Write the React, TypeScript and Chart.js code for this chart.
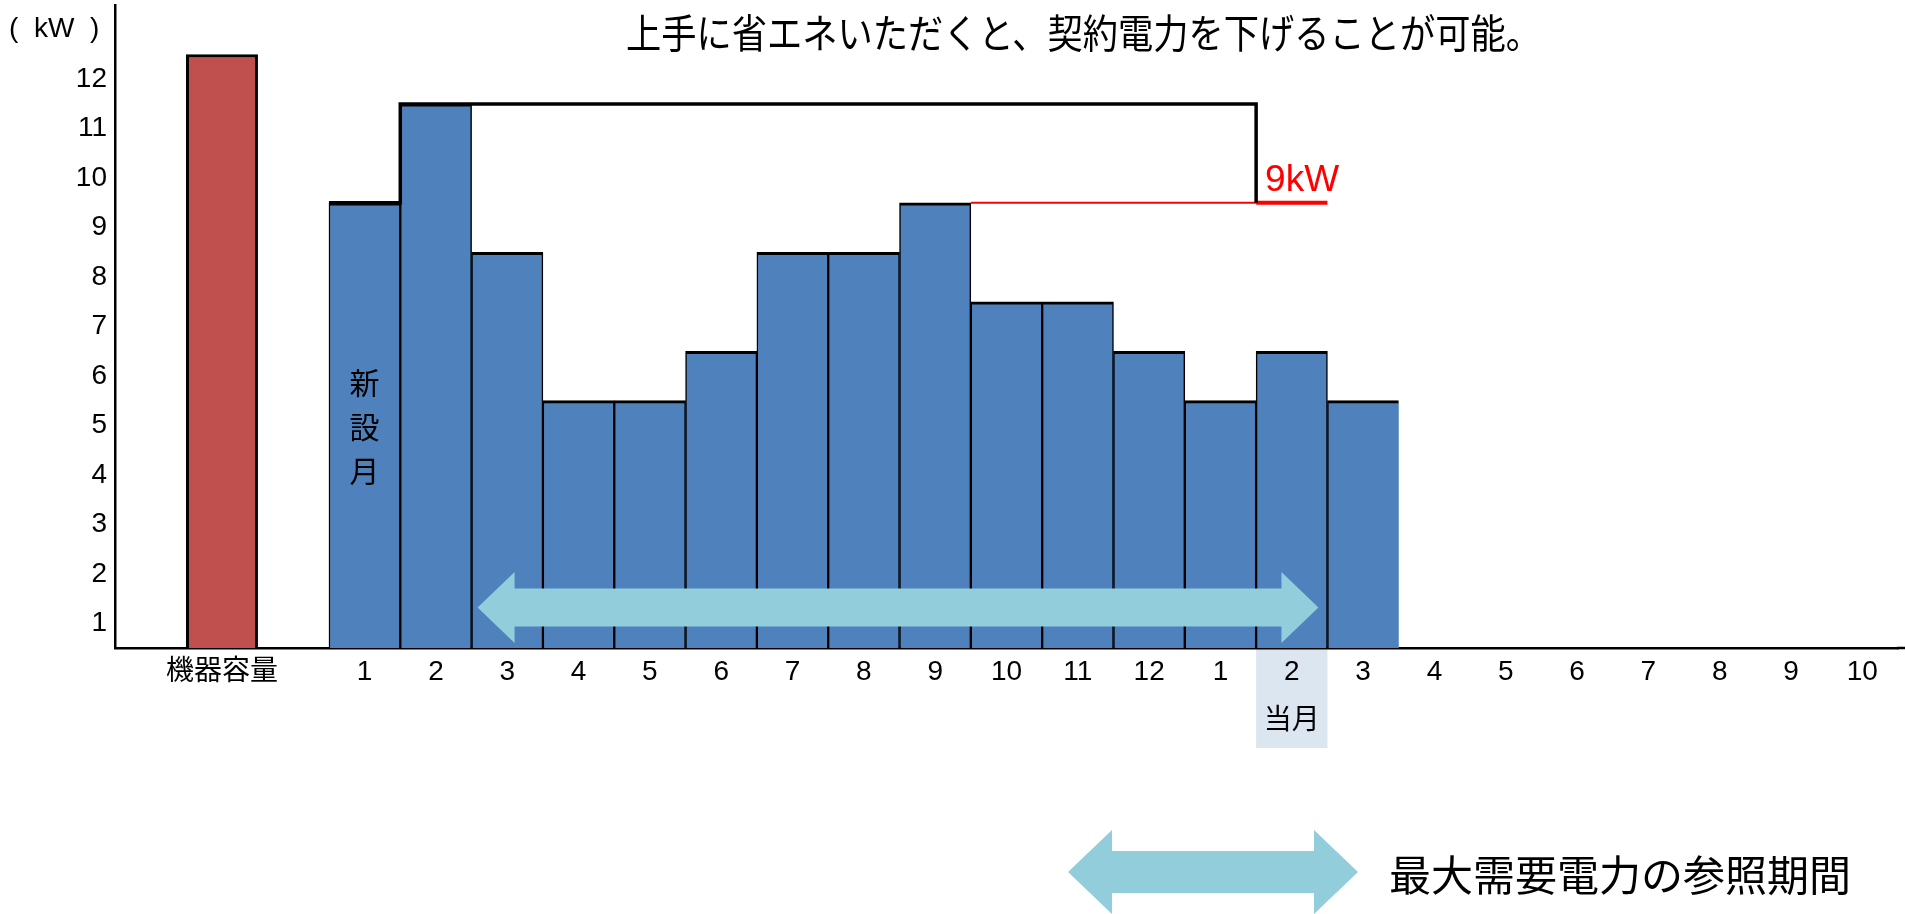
import React, { useEffect, useRef } from "react";
import { Chart, registerables } from "chart.js";

Chart.register(...registerables);

// ---------- data ----------
const categories: (string | string[])[] = [
  "", "機器容量", "",
  "1", "2", "3", "4", "5", "6", "7", "8", "9", "10", "11", "12",
  "1", ["2", "当月"], "3", "4", "5", "6", "7", "8", "9", "10",
];

const capacityValues: (number | null)[] = [
  null, 12, null,
  null, null, null, null, null, null, null, null, null, null, null, null,
  null, null, null, null, null, null, null, null, null, null,
];

const demandValues: (number | null)[] = [
  null, null, null,
  9, 11, 8, 5, 5, 6, 8, 8, 9, 7, 7, 6,
  5, 6, 5, null, null, null, null, null, null, null,
];

// contract power (max demand of the past 12 months) drawn as a step line
const contractLine: (number | null)[] = [
  null, null, null,
  9, 11, 11, 11, 11, 11, 11, 11, 11, 11, 11, 11,
  11, 9, null, null, null, null, null, null, null, null,
];

const yTickLabels: string[] = ["1", "2", "3", "4", "5", "6", "7", "8", "9", "10", "11", "12", "(  kW  ) "];

const peakMonthIndex = 11; // month 9 (9 kW)
const currentMonthIndex = 16; // 当月
const referencePeriod: [number, number] = [5, 16];
const contractPowerKW = 9;
const newMonthIndex = 3;

const titleText = "上手に省エネいただくと、契約電力を下げることが可能。";
const legendText = "最大需要電力の参照期間";
const newMonthText = ["新", "設", "月"];
const contractLabel = "9kW";

// ---------- styles ----------
const LATIN = '"Liberation Sans", "Noto Sans CJK JP", sans-serif';
const CJK = '"Noto Sans CJK JP", sans-serif';
const BLUE = "#4F81BD";
const RED_BAR = "#C0504D";
const ARROW = "#92CDDC";

function drawDoubleArrow(
  ctx: CanvasRenderingContext2D,
  x1: number,
  x2: number,
  cy: number,
  shaftHalf: number,
  headHalf: number,
  headLen: number,
  color: string
) {
  ctx.save();
  ctx.fillStyle = color;
  ctx.beginPath();
  ctx.moveTo(x1, cy);
  ctx.lineTo(x1 + headLen, cy - headHalf);
  ctx.lineTo(x1 + headLen, cy - shaftHalf);
  ctx.lineTo(x2 - headLen, cy - shaftHalf);
  ctx.lineTo(x2 - headLen, cy - headHalf);
  ctx.lineTo(x2, cy);
  ctx.lineTo(x2 - headLen, cy + headHalf);
  ctx.lineTo(x2 - headLen, cy + shaftHalf);
  ctx.lineTo(x1 + headLen, cy + shaftHalf);
  ctx.lineTo(x1 + headLen, cy + headHalf);
  ctx.closePath();
  ctx.fill();
  ctx.restore();
}

const overlayPlugin = {
  id: "overlay",
  beforeDraw(chart: any) {
    const { ctx, scales } = chart;
    const x = scales.x;
    const y = scales.y;
    const w = x.getPixelForValue(1) - x.getPixelForValue(0);
    const cx = x.getPixelForValue(currentMonthIndex);
    ctx.save();
    ctx.fillStyle = "#DCE6F1";
    ctx.fillRect(cx - w / 2, y.bottom, w, 100);
    ctx.restore();
  },
  afterDatasetsDraw(chart: any) {
    const { ctx, scales } = chart;
    const x = scales.x;
    const y = scales.y;
    const w = x.getPixelForValue(1) - x.getPixelForValue(0);
    const left = (i: number) => x.getPixelForValue(i) - w / 2;
    const right = (i: number) => x.getPixelForValue(i) + w / 2;
    const py = y.getPixelForValue(contractPowerKW);

    ctx.save();
    // thin red reference line from the peak month
    ctx.strokeStyle = "#FF0000";
    ctx.lineWidth = 2;
    ctx.beginPath();
    ctx.moveTo(right(peakMonthIndex), py);
    ctx.lineTo(left(currentMonthIndex), py);
    ctx.stroke();

    // thick red segment on current month
    ctx.lineWidth = 4;
    ctx.beginPath();
    ctx.moveTo(left(currentMonthIndex), py);
    ctx.lineTo(right(currentMonthIndex), py);
    ctx.stroke();

    // black step line (contract power)
    ctx.strokeStyle = "#000";
    ctx.lineWidth = 3.5;
    ctx.lineJoin = "miter";
    ctx.lineCap = "butt";
    ctx.beginPath();
    let started = false;
    for (let i = 0; i < contractLine.length; i++) {
      const v = contractLine[i];
      if (v === null) continue;
      const vy = y.getPixelForValue(v);
      if (i === currentMonthIndex) {
        ctx.lineTo(left(i), vy);
        break;
      }
      if (!started) {
        ctx.moveTo(left(i), vy);
        started = true;
      } else {
        ctx.lineTo(left(i), vy);
      }
      ctx.lineTo(right(i), vy);
    }
    ctx.stroke();

    // in-chart reference-period arrow
    drawDoubleArrow(
      ctx,
      left(referencePeriod[0]) + 6,
      right(referencePeriod[1]) - 9,
      y.getPixelForValue(0.82),
      19,
      35.5,
      37,
      ARROW
    );

    // 新設月 vertical text
    ctx.fillStyle = "#000";
    ctx.font = `30px ${CJK}`;
    ctx.textAlign = "center";
    ctx.textBaseline = "middle";
    const nx = x.getPixelForValue(newMonthIndex);
    const ny0 = y.getPixelForValue(5.36);
    newMonthText.forEach((ch, k) => ctx.fillText(ch, nx, ny0 + k * 44));

    // 9kW label
    ctx.fillStyle = "#FF0000";
    ctx.font = `37px ${LATIN}`;
    ctx.textAlign = "left";
    ctx.textBaseline = "alphabetic";
    ctx.fillText(contractLabel, left(currentMonthIndex) + 9, py - 12);
    ctx.restore();
  },
  afterDraw(chart: any) {
    const { ctx, scales, width } = chart;
    const x = scales.x;
    const y = scales.y;
    ctx.save();
    // extend x axis line to the edge
    ctx.strokeStyle = "#000";
    ctx.lineWidth = 2.5;
    ctx.beginPath();
    ctx.moveTo(x.right - 1, y.bottom);
    ctx.lineTo(width, y.bottom);
    ctx.stroke();

    // title
    ctx.fillStyle = "#000";
    ctx.font = `40px ${CJK}`;
    const tw = ctx.measureText(titleText).width;
    ctx.translate(1083.5, 33);
    ctx.scale(915 / tw, 1);
    ctx.textAlign = "center";
    ctx.textBaseline = "middle";
    ctx.fillText(titleText, 0, 0);
    ctx.restore();

    // legend
    ctx.save();
    drawDoubleArrow(ctx, 1068, 1358, 872, 21, 42, 44, ARROW);
    ctx.fillStyle = "#000";
    ctx.font = `42px ${CJK}`;
    ctx.textAlign = "left";
    ctx.textBaseline = "middle";
    ctx.fillText(legendText, 1389, 875);
    ctx.restore();
  },
};

export default function App() {
  const ref = useRef<HTMLCanvasElement>(null);

  useEffect(() => {
    if (!ref.current) return;
    const chart = new Chart(ref.current, {
      type: "bar",
      data: {
        labels: categories as any,
        datasets: [
          {
            data: capacityValues as any,
            backgroundColor: RED_BAR,
            borderColor: "#000",
            borderWidth: 3,
            borderSkipped: "start",
            grouped: false,
            barPercentage: 1,
            categoryPercentage: 1,
          } as any,
          {
            data: demandValues as any,
            backgroundColor: BLUE,
            borderColor: "#000",
            borderWidth: (c: any) =>
              c.dataIndex === 17
                ? { top: 3, left: 1.5, right: 0, bottom: 0 }
                : { top: 3, left: 1.5, right: 1.5, bottom: 0 },
            borderSkipped: "start",
            grouped: false,
            barPercentage: 1,
            categoryPercentage: 1,
          } as any,
        ],
      },
      options: {
        animation: false,
        responsive: false,
        events: [],
        layout: { padding: { top: 5, right: 7, bottom: 0, left: 0 } },
        plugins: {
          legend: { display: false },
          tooltip: { enabled: false },
          title: { display: false },
        },
        scales: {
          x: {
            type: "category",
            offset: true,
            z: 1,
            grid: { display: false, drawTicks: false, offset: true },
            border: { display: true, color: "#000", width: 2.5 },
            ticks: {
              color: "#000",
              font: { size: 28, family: LATIN, lineHeight: 1.75 },
              padding: 0,
              autoSkip: false,
              maxRotation: 0,
              minRotation: 0,
            },
            afterFit: (s: any) => {
              s.height = 266;
              s.paddingLeft = 0;
              s.paddingRight = 0;
            },
          },
          y: {
            type: "linear",
            min: 0,
            max: 13,
            z: 1,
            grid: { display: false, drawTicks: false },
            border: { display: true, color: "#000", width: 2.5 },
            afterBuildTicks: (s: any) => {
              s.ticks = yTickLabels.map((_, i) => ({ value: i + 0.5 }));
            },
            ticks: {
              color: "#000",
              font: { size: 28, family: LATIN },
              padding: 8,
              autoSkip: false,
              callback: (_v: any, i: number) => yTickLabels[i],
            },
            afterFit: (s: any) => {
              s.width = 115;
              s.paddingTop = 0;
              s.paddingBottom = 0;
            },
          },
        },
      } as any,
      plugins: [overlayPlugin],
    });
    return () => chart.destroy();
  }, []);

  return (
    <div style={{ position: "fixed", left: 0, top: 0, width: 1905, height: 914, background: "#fff" }}>
      <canvas ref={ref} width={1905} height={914} style={{ display: "block" }} />
    </div>
  );
}
